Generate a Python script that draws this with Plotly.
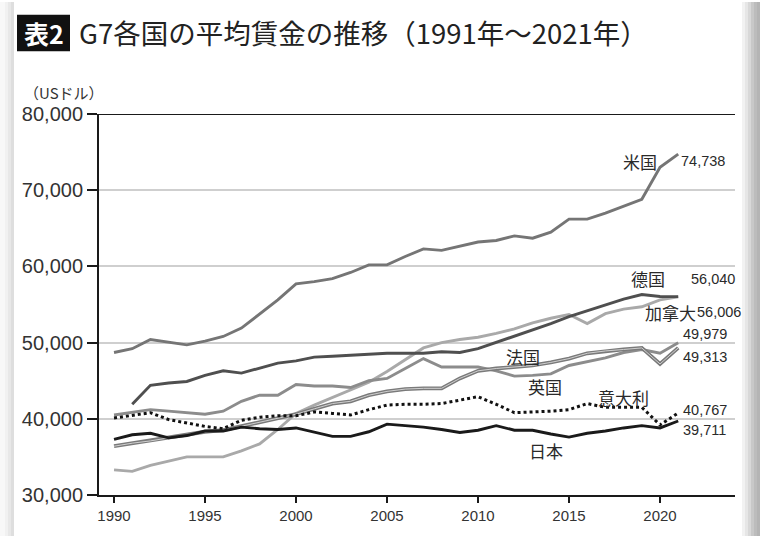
import plotly.graph_objects as go

years = list(range(1990, 2022))

us = [48700, 49200, 50400, 50000, 49700, 50200, 50800, 51900, 53700, 55600,
      57700, 58000, 58400, 59200, 60200, 60200, 61300, 62300, 62100, 62600,
      63200, 63400, 64000, 63700, 64500, 66200, 66200, 67000, 67900, 68800,
      73000, 74738]
germany_years = list(range(1991, 2022))
germany = [41900, 44400, 44700, 44900, 45700, 46300, 46000, 46700, 47300,
           47600, 48100, 48200, 48300, 48500, 48600, 48600, 48600, 48800, 48700,
           49200, 50000, 50800, 51700, 52500, 53400, 54200, 55000, 55700, 56300,
           56050, 56040]
canada = [33300, 33100, 33900, 34400, 35000, 35000, 35000, 35800, 36700, 38600,
          40700, 41800, 42800, 43800, 44800, 46200, 47800, 49300, 50000, 50400,
          50700, 51200, 51800, 52600, 53200, 53700, 52500, 53800, 54400, 54700,
          55600, 56006]
uk = [40500, 40800, 41200, 41000, 40800, 40600, 41000, 42300, 43100, 43100,
      44500, 44300, 44300, 44100, 45000, 45300, 46600, 47900, 46800, 46800,
      46800, 46300, 45600, 45700, 45900, 47000, 47500, 48000, 48700, 49100,
      48600, 49979]
france = [36400, 36800, 37100, 37500, 37900, 38300, 38500, 39000, 39500, 40100,
          40600, 41300, 42000, 42300, 43100, 43600, 43900, 44000, 44000, 45300,
          46300, 46600, 46800, 47000, 47400, 47900, 48600, 48900, 49100, 49300,
          47200, 49313]
italy = [40100, 40500, 40800, 39900, 39400, 39000, 38700, 39800, 40200, 40400,
         40400, 40900, 40700, 40500, 41200, 41800, 41900, 41900, 42000, 42500,
         42900, 41900, 40800, 40900, 41000, 41200, 42000, 41500, 41500, 41500,
         39200, 40767]
japan = [37300, 37900, 38100, 37500, 37800, 38400, 38400, 38900, 38700, 38600,
         38800, 38200, 37700, 37700, 38300, 39300, 39100, 38900, 38600, 38200,
         38500, 39100, 38500, 38500, 38000, 37600, 38100, 38400, 38800, 39100,
         38800, 39711]

y_ticks = [30000, 40000, 50000, 60000, 70000, 80000]
x_ticks = [1990, 1995, 2000, 2005, 2010, 2015, 2020]

# target plot-area pixel geometry
L, R, T, B = 99, 735, 114, 502
W, H = R - L, B - T


def px(x):
    return (x - L) / W


def py(y):
    return (B - y) / H


fig = go.Figure()

line_w = 2.9
fig.add_trace(go.Scatter(x=years, y=canada, mode="lines",
                         line=dict(color="#a9a9a9", width=line_w)))
fig.add_trace(go.Scatter(x=years, y=uk, mode="lines",
                         line=dict(color="#8c8c8c", width=line_w)))
fig.add_trace(go.Scatter(x=years, y=france, mode="lines",
                         line=dict(color="#7a7a7a", width=3.8)))
fig.add_trace(go.Scatter(x=years, y=france, mode="lines",
                         line=dict(color="#d0d0d0", width=1.0)))
fig.add_trace(go.Scatter(x=years, y=italy, mode="lines",
                         line=dict(color="#111111", width=3.0, dash="dot")))
fig.add_trace(go.Scatter(x=years, y=japan, mode="lines",
                         line=dict(color="#1a1a1a", width=line_w)))
fig.add_trace(go.Scatter(x=germany_years, y=germany, mode="lines",
                         line=dict(color="#4f4f4f", width=line_w)))
fig.add_trace(go.Scatter(x=years, y=us, mode="lines",
                         line=dict(color="#757575", width=line_w)))

jp = "Noto Sans CJK JP"
num = "Liberation Sans, Arial"

annotations = []


def label(text, x, y, anchor="center", size=17, font=jp, color="#2a2a2a"):
    annotations.append(dict(text=text, x=px(x), y=py(y), xref="paper", yref="paper",
                            xanchor=anchor, yanchor="middle", showarrow=False,
                            font=dict(family=font, size=size, color=color)))


label("米国", 640, 162)
label("74,738", 679, 162, "left", 14.5, num)
label("德国", 648, 282)
label("56,040", 689, 282, "left", 14.5, num)
label("加拿大", 670, 316)
label("56,006", 695, 316, "left", 14.5, num)
label("49,979", 681, 338, "left", 14.5, num)
label("49,313", 681, 361, "left", 14.5, num)
label("法国", 523, 361)
label("英国", 545, 391)
label("意大利", 623, 403)
label("40,767", 681, 415, "left", 14.5, num)
label("39,711", 681, 436, "left", 14.5, num)
label("日本", 546, 457)
label("（USドル）", 22, 92, "left", 15, jp, "#333333")

# title
annotations.append(dict(text="<b>表2</b>", x=px(43.5), y=py(32), xref="paper", yref="paper",
                        xanchor="center", yanchor="middle", showarrow=False,
                        font=dict(family=jp, size=25, color="white")))
annotations.append(dict(text="G7各国の平均賃金の推移（1991年～2021年）", x=px(77), y=py(31),
                        xref="paper", yref="paper", xanchor="left", yanchor="middle",
                        showarrow=False, font=dict(family=jp, size=27.5, color="#222222")))

shapes = [
    dict(type="rect", xref="paper", yref="paper", x0=px(17), x1=px(70),
         y0=py(50), y1=py(13), fillcolor="#111111", line=dict(width=0)),
    dict(type="line", xref="paper", yref="y", x0=0, x1=1, y0=80000, y1=80000,
         line=dict(color="#1a1a1a", width=2)),
]
# frame shadows
for i, c in enumerate(["#f2f2f2", "#e6e6e6", "#d8d8d8", "#c8c8c8", "#bcbcbc", "#b4b4b4"]):
    shapes.append(dict(type="rect", xref="paper", yref="paper", layer="below",
                       x0=px(742 + i * 3), x1=px(760), y0=py(545), y1=py(0),
                       fillcolor=c, line=dict(width=0)))
for i, c in enumerate(["#dedede", "#e8e8e8", "#f1f1f1", "#f8f8f8"]):
    shapes.append(dict(type="rect", xref="paper", yref="paper", layer="below",
                       x0=px(0), x1=px(14 - i * 3), y0=py(545), y1=py(0),
                       fillcolor=c, line=dict(width=0)))

fig.update_layout(
    width=760, height=536,
    margin=dict(l=L, r=760 - R, t=T, b=536 - B),
    paper_bgcolor="white", plot_bgcolor="white",
    showlegend=False,
    annotations=annotations,
    shapes=shapes,
    xaxis=dict(range=[1989.175, 2024.12], tickvals=x_ticks,
               ticktext=[str(v) for v in x_ticks],
               showgrid=False, zeroline=False,
               showline=True, linecolor="#1a1a1a", linewidth=2,
               ticks="outside", ticklen=6, tickwidth=1.5, tickcolor="#1a1a1a",
               tickfont=dict(family=num, size=15, color="#333333")),
    yaxis=dict(range=[30000, 80000], tickvals=y_ticks,
               ticktext=[f"{v:,}" for v in y_ticks],
               showgrid=True, gridcolor="#cfcfcf", gridwidth=1.5, zeroline=False,
               showline=True, linecolor="#1a1a1a", linewidth=2,
               ticks="outside", ticklen=10, tickwidth=1.5, tickcolor="#1a1a1a",
               tickfont=dict(family=num, size=20, color="#333333")),
)

fig.write_html("out.html", config={"displayModeBar": False},
               post_script="document.body.style.margin='0px';document.body.style.overflow='hidden';")
